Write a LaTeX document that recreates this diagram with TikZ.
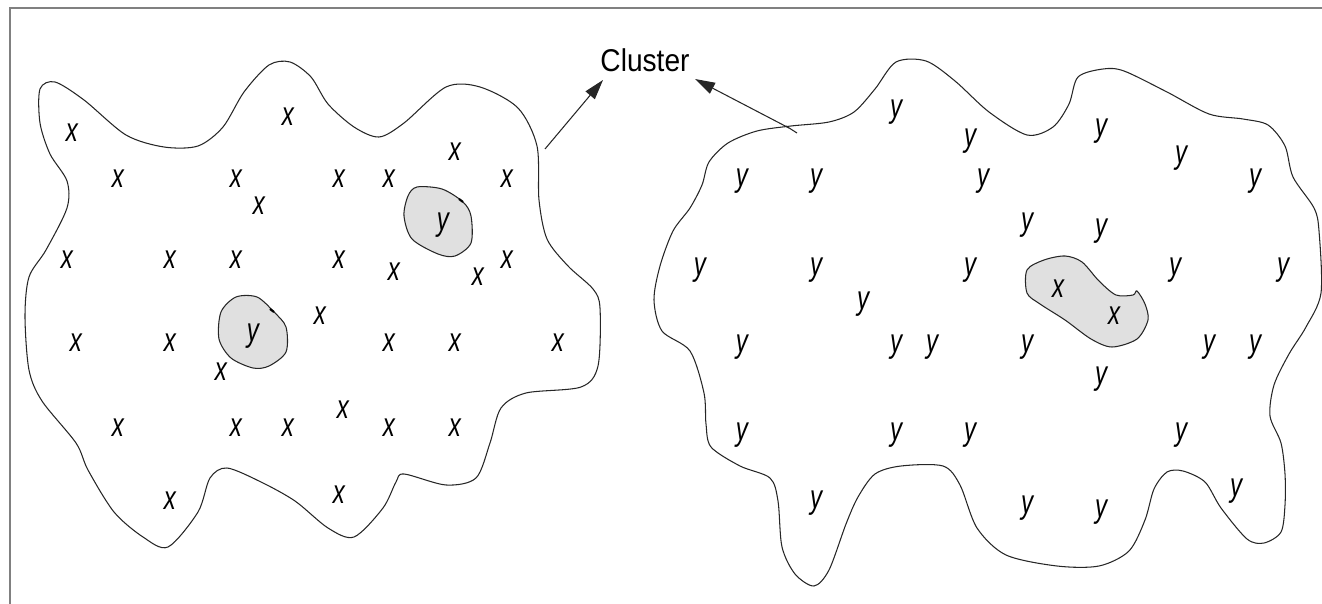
\documentclass[tikz,border=0pt]{standalone}
\usepackage{fontspec}
\setmainfont{Liberation Sans}
\usetikzlibrary{arrows.meta}

% narrow italic letters for the data points
\newcommand\pnt[1]{\scalebox{0.72}[1]{\itshape #1}}

\begin{document}
\begin{tikzpicture}[x=0.02cm,y=-0.02cm,
  outline/.style={draw=black!85,line width=0.6pt},
  island/.style={outline,fill=black!12},
  pt/.style={inner sep=0pt,font=\fontsize{19}{22}\selectfont},
  pointer/.style={draw=black!85,line width=0.6pt,-{Triangle[length=4mm,width=2.4mm]}}]
\useasboundingbox (0,0) rectangle (1322,604);
%\draw[step=50,lightgray,very thin] (0,0) grid (1322,604);
\draw[black!50,line width=1.6pt] (10,604) -- (10,8) -- (1322,8);

% left cluster
\draw[outline] plot[smooth cycle] coordinates {
  (40,89) (55,82) (84,100) (126,135) (164,147) (198,146) (223,127) (244,92)
  (269,65) (290,62) (311,77) (328,104) (354,127) (379,137) (404,123) (446,87)
  (480,87) (518,108) (537,146) (539,200) (547,239) (568,266) (593,289) (600,308)
  (598,366) (581,387) (526,393) (501,408) (490,443) (476,478) (446,485) (404,474)
  (396,482) (383,508) (354,537) (328,528) (295,501) (261,482) (227,468) (210,478)
  (198,512) (168,547) (143,537) (114,512) (88,470) (76,443) (42,401) (29,370)
  (25,316) (29,277) (46,250) (67,208) (67,181) (50,154) (40,123)};
\draw[island] plot[smooth cycle] coordinates {
  (417,187) (442,189) (463,202) (471,216) (471,243) (455,256) (438,254)
  (412,239) (404,216) (408,196)};
\draw[island] plot[smooth cycle] coordinates {
  (236,297) (257,297) (274,312) (286,327) (286,352) (269,366) (253,368)
  (231,358) (219,339) (221,312)};
\draw[line width=1.2pt] (459,199) -- (463,202);
\draw[line width=1.2pt] (270,309) -- (274,312);
\node[pt] (ly1) at (443,225) {\pnt{y}};
\node[pt] (ly2) at (253,336) {\pnt{y}};

\foreach \px/\py [count=\i] in {72/133, 288/117, 455/152, 118/179, 236/179,
    339/179, 389/179, 507/179, 259/206, 67/260, 170/260, 236/260, 339/260,
    394/272, 507/260, 478/277, 320/316, 76/343, 170/343, 389/343, 455/343,
    558/343, 221/372, 343/410, 118/428, 236/428, 288/428, 389/428, 455/428,
    170/501, 339/495}
  \node[pt] (lx\i) at (\px,\py) {\pnt{x}};

% right cluster
\draw[outline] plot[smooth cycle] coordinates {
  (791,126) (829,122) (854,112) (875,89) (896,62) (926,61) (955,81) (989,112)
  (1027,135) (1053,127) (1069,104) (1078,77) (1103,69) (1124,71) (1167,92)
  (1209,114) (1243,119) (1268,125) (1285,146) (1293,177) (1314,208) (1319,231)
  (1321,293) (1306,327) (1289,354) (1274,385) (1270,416) (1281,443) (1285,474)
  (1285,505) (1281,532) (1264,543) (1247,539) (1221,508) (1205,482) (1183,471)
  (1167,472) (1154,489) (1145,520) (1129,551) (1099,566) (1057,566) (1006,555)
  (977,528) (960,485) (943,466) (901,466) (875,474) (858,497) (846,524)
  (829,570) (814,586) (795,574) (782,547) (778,501) (770,478) (740,466)
  (711,447) (706,424) (704,393) (690,351) (662,331) (654,300) (660,266)
  (673,231) (690,208) (702,185) (709,162) (728,143) (757,131)};
\draw[island] plot[smooth cycle] coordinates {
  (1027,270) (1044,260) (1065,256) (1082,262) (1099,281) (1116,295) (1133,295)
  (1137,291) (1145,304) (1148,320) (1137,339) (1112,347) (1091,339) (1065,320)
  (1040,304) (1027,293)};
\node[pt] (rx1) at (1058,289) {\pnt{x}};
\node[pt] (rx2) at (1114,316) {\pnt{x}};

\foreach \px/\py [count=\i] in {896/112, 970/141, 1101/131, 1181/158, 742/181,
    816/181, 983/181, 1255/181, 1027/225, 1101/231, 700/270, 816/270, 970/270,
    1175/270, 1283/270, 863/304, 742/347, 896/347, 932/347, 1027/347,
    1209/347, 1255/347, 1101/379, 742/435, 896/435, 970/435, 1181/435,
    816/503, 1027/508, 1101/512, 1236/491}
  \node[pt] (ry\i) at (\px,\py) {\pnt{y}};

% label and pointers
\node[inner sep=0pt,font=\fontsize{16}{19}\selectfont] (cluster) at (645,60)
  {\scalebox{1}[1.12]{Cluster}};
\coordinate (ltail) at (545,149);
\coordinate (lhead) at (603,80);
\coordinate (rtail) at (789,128);
\coordinate (rhead) at (695,79);
\draw[pointer] (ltail) -- (lhead);
\draw[pointer] (rtail) -- (rhead);
\draw[black!85,line width=0.6pt] (786,126) -- (797,133);

\end{tikzpicture}
\end{document}
